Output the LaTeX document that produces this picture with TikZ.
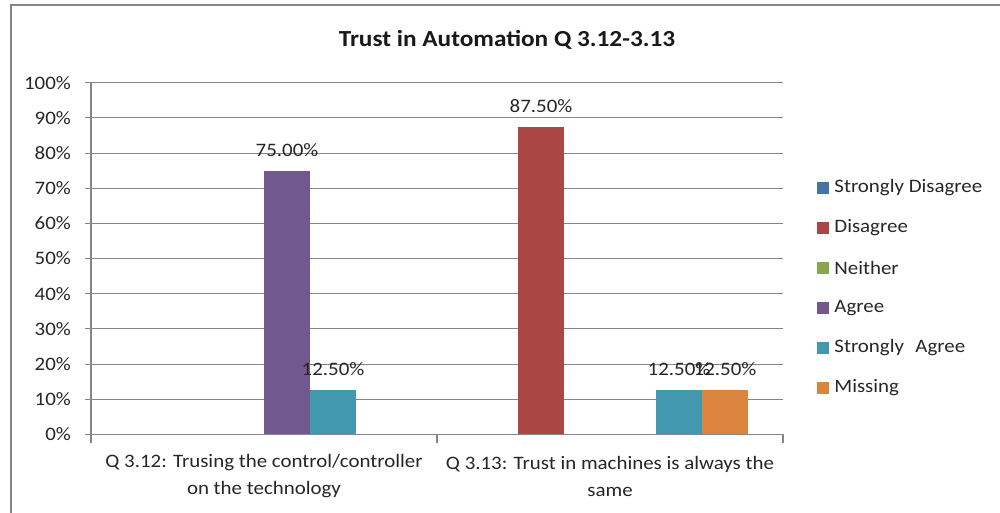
\documentclass[tikz,border=0pt]{standalone}
\usepackage{fontspec}
\setmainfont{Carlito}[FakeStretch=1.1]
\usetikzlibrary{positioning}

\definecolor{cSDisagree}{HTML}{4572A7}
\definecolor{cDisagree}{HTML}{AA4643}
\definecolor{cNeither}{HTML}{89A54E}
\definecolor{cAgree}{HTML}{71588F}
\definecolor{cSAgree}{HTML}{4198AF}
\definecolor{cMissing}{HTML}{DB843D}
\definecolor{framegray}{HTML}{868686}

\tikzset{
  gridline/.style={draw=framegray, line width=0.9pt},
  axisline/.style={draw=framegray, line width=1.1pt},
  ticklbl/.style={anchor=east, inner sep=0pt, text=black!85, font=\fontsize{19}{22}\selectfont},
  datalbl/.style={inner sep=0pt, text=black!85, font=\fontsize{19}{22}\selectfont},
  catlbl/.style={align=center, inner sep=0pt, text=black!85, font=\fontsize{19}{27}\selectfont},
  keybox/.style={minimum size=12pt, inner sep=0pt},
  keylbl/.style={anchor=west, inner sep=0pt, text=black!85, font=\fontsize{19}{22}\selectfont}
}

\begin{document}
\begin{tikzpicture}[x=1pt, y=-1pt]
    \useasboundingbox (0,0) rectangle (1000,513);
    \draw[framegray, line width=2pt] (1000,5.5) -- (10.5,5.5) -- (10.5,513);
    \node[font=\fontsize{23}{26}\selectfont\bfseries, text=black!90] (title) at (507,40) {Trust in Automation Q 3.12-3.13};

    \foreach \p in {10,20,...,100}
      \draw[gridline] (85,{434.3-3.516*\p}) -- (783,{434.3-3.516*\p});
    \foreach \p in {0,10,...,100}
      \node[ticklbl] (tick\p) at (71,{434.3-3.516*\p}) {\p\%};
    \draw[axisline] (91,82.7) -- (91,442.5);
    \draw[axisline] (85,434.3) -- (783,434.3);
    \draw[axisline] (437,434.3) -- (437,442.5);
    \draw[axisline] (783,434.3) -- (783,442.5);

    \foreach \bx/\val/\col/\nm/\txt in {264/75/cAgree/lblA/75.00\%,
        310/12.5/cSAgree/lblB/12.50\%,
        518/87.5/cDisagree/lblC/87.50\%,
        656/12.5/cSAgree/lblD/12.50\%,
        702/12.5/cMissing/lblE/12.50\%} {
      \fill[fill=\col] (\bx,434.3) rectangle ++(46,{-3.516*\val});
      \node[datalbl] (\nm) at ({\bx+23},{434.3-3.516*\val-21}) {\txt};
    }

    \node[catlbl] (catA) at (264,476) {Q 3.12: Trusing the control/controller\\on the technology};
    \node[catlbl] (catB) at (610,476) {Q 3.13: Trust in machines is always the\\same};

    \foreach \i/\col/\txt in {0/cSDisagree/Strongly Disagree,
        1/cDisagree/Disagree,
        2/cNeither/Neither,
        3/cAgree/Agree,
        4/cSAgree/Strongly\hspace{0.6em}Agree,
        5/cMissing/Missing} {
      \node[keybox, fill=\col] (key\i) at (823,{188+40*\i}) {};
      \node[keylbl, right=5pt of key\i] (keytxt\i) {\txt};
    }
\end{tikzpicture}
\end{document}
